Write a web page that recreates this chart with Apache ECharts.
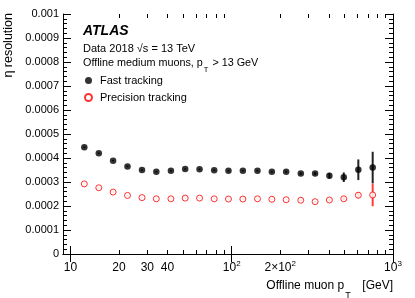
<!DOCTYPE html>
<html><head><meta charset="utf-8">
<script src="https://cdn.jsdelivr.net/npm/echarts@6/dist/echarts.min.js"></script>
<style>html,body{margin:0;padding:0;background:#fff}#c{width:415px;height:298px}</style>
</head><body><div id="c"></div>
<script>
// ---- data ----
const ptValues = [12.2, 15.0, 18.4, 22.6, 27.8, 34.1, 42.0, 51.5, 63.2, 77.9, 95.5, 117.3, 144.5, 177.4, 217.6, 268.2, 328.9, 403.3, 495.3, 609.7, 748.2];
const fastRes = [0.000445, 0.000420, 0.000389, 0.000365, 0.000350, 0.000343, 0.000347, 0.000354, 0.000353, 0.000349, 0.000347, 0.000347, 0.000347, 0.000343, 0.000343, 0.000335, 0.000335, 0.000326, 0.000320, 0.000351, 0.000360];
const fastErr = [0.000003, 0.000003, 0.000003, 0.000003, 0.000003, 0.000003, 0.000003, 0.000003, 0.000003, 0.000003, 0.000003, 0.000003, 0.000003, 0.000003, 0.000004, 0.000005, 0.000006, 0.000012, 0.000020, 0.000043, 0.000066];
const precRes = [0.000292, 0.000276, 0.000258, 0.000244, 0.000235, 0.000230, 0.000230, 0.000233, 0.000233, 0.000230, 0.000229, 0.000229, 0.000230, 0.000228, 0.000226, 0.000224, 0.000218, 0.000225, 0.000230, 0.000245, 0.000246];
const precErr = [0.000002, 0.000002, 0.000002, 0.000002, 0.000002, 0.000002, 0.000002, 0.000002, 0.000002, 0.000002, 0.000002, 0.000002, 0.000002, 0.000002, 0.000002, 0.000003, 0.000003, 0.000004, 0.000006, 0.000013, 0.000047];
const xMajorTicks = [10, 100, 1000];
const xMinorTicks = [20, 30, 40, 50, 60, 70, 80, 90, 200, 300, 400, 500, 600, 700, 800, 900];
const xTickLabels = [10, 20, 30, 40, 100, 200, 1000];
const seriesNames = ['Fast tracking', 'Precision tracking'];
const xRange = [9, 1000];
const yRange = [0, 0.001];
const yStep = 0.0001;

// ---- chart ----
const FONT = 'Liberation Sans, Arial, Helvetica, sans-serif';
const chart = echarts.init(document.getElementById('c'), null, {renderer: 'canvas'});

function xLabelFmt(v) {
  const m = {10: '{n|10}', 20: '{n|20}', 30: '{n|30}', 40: '{n|40}', 100: '{n|10}{sup|2}', 200: '{n|2×10}{sup|2}', 1000: '{n|10}{sup|3}'};
  return m[Math.round(v)] || '';
}
function yLabelFmt(v) {
  if (Math.abs(v) < 1e-12) return '0';
  return v.toFixed(4).replace(/0+$/, '');
}
const line = {show: true, lineStyle: {color: '#000', width: 1}};

const errSeries = (name, res, err, color) => ({
  type: 'custom', name: name + '_err', xAxisIndex: 0, yAxisIndex: 0, z: 1,
  data: ptValues.map((x, i) => [x, res[i], err[i]]),
  encode: {x: 0, y: 1},
  renderItem: function (params, api) {
    const x = api.value(0), y = api.value(1), e = api.value(2);
    const p1 = api.coord([x, y - e]);
    const p2 = api.coord([x, y + e]);
    return {type: 'line', shape: {x1: p1[0], y1: p1[1], x2: p2[0], y2: p2[1]},
            style: {stroke: color, lineWidth: 2}};
  },
  silent: true
});

const subRich = (main, sub, lh, pad, padR) => ({
  n: {fontSize: main, lineHeight: lh, verticalAlign: 'top', fontFamily: FONT, color: '#000'},
  sub: {fontSize: sub, lineHeight: sub, verticalAlign: 'top', padding: [pad, padR, 0, 1], fontFamily: FONT, color: '#000'}
});

const option = {
  animation: false,
  backgroundColor: '#fff',
  textStyle: {fontFamily: FONT},
  grid: [
    {left: 63, right: 22, top: 14, bottom: 44, containLabel: false},
    {left: 63, right: 22, top: 14, bottom: 44, containLabel: false}
  ],
  xAxis: [
    {type: 'log', gridIndex: 0, position: 'bottom', min: xRange[0], max: xRange[1], logBase: 10,
     axisLine: line, splitLine: {show: false},
     axisTick: {show: true, inside: true, length: 8, customValues: xMajorTicks, lineStyle: {color: '#000'}},
     axisLabel: {show: true, customValues: xTickLabels, formatter: xLabelFmt, color: '#000', fontSize: 12, margin: 6,
                 fontFamily: FONT,
                 rich: {n: {fontSize: 12, lineHeight: 12, verticalAlign: 'top', padding: [2, 0, 0, 0], fontFamily: FONT},
                        sup: {fontSize: 8, lineHeight: 8, verticalAlign: 'top', fontFamily: FONT}}}},
    {type: 'log', gridIndex: 0, position: 'top', min: xRange[0], max: xRange[1], logBase: 10,
     axisLine: line, splitLine: {show: false}, axisLabel: {show: false},
     axisTick: {show: true, inside: true, length: 8, customValues: xMajorTicks, lineStyle: {color: '#000'}}},
    {type: 'log', gridIndex: 1, position: 'bottom', min: xRange[0], max: xRange[1], logBase: 10,
     axisLine: {show: false}, splitLine: {show: false}, axisLabel: {show: false},
     axisTick: {show: true, inside: true, length: 4, customValues: xMinorTicks, lineStyle: {color: '#000'}}},
    {type: 'log', gridIndex: 1, position: 'top', min: xRange[0], max: xRange[1], logBase: 10,
     axisLine: {show: false}, splitLine: {show: false}, axisLabel: {show: false},
     axisTick: {show: true, inside: true, length: 4, customValues: xMinorTicks, lineStyle: {color: '#000'}}}
  ],
  yAxis: [
    {type: 'value', gridIndex: 0, position: 'left', min: yRange[0], max: yRange[1], interval: yStep,
     axisLine: line, splitLine: {show: false},
     axisTick: {show: true, inside: true, length: 8, lineStyle: {color: '#000'}},
     minorTick: {show: true, splitNumber: 5, length: 4, lineStyle: {color: '#000'}},
     axisLabel: {show: true, formatter: yLabelFmt, color: '#000', fontSize: 11, margin: 4, fontFamily: FONT}},
    {type: 'value', gridIndex: 0, position: 'right', min: yRange[0], max: yRange[1], interval: yStep,
     axisLine: line, splitLine: {show: false}, axisLabel: {show: false},
     axisTick: {show: true, inside: true, length: 8, lineStyle: {color: '#000'}},
     minorTick: {show: true, splitNumber: 5, length: 4, lineStyle: {color: '#000'}}},
    {type: 'value', gridIndex: 1, min: yRange[0], max: yRange[1], show: false}
  ],
  legend: {
    show: true, orient: 'vertical', left: 84, top: 74, padding: 0, itemWidth: 7, itemHeight: 7, itemGap: 4,
    data: seriesNames,
    textStyle: {color: '#000', fontSize: 11, fontFamily: FONT, lineHeight: 13, padding: [0, 0, 0, 3]},
    selectedMode: false
  },
  graphic: [
    {type: 'text', x: 83, y: 31.5, style: {text: 'ATLAS', font: 'italic bold 14px ' + FONT, fill: '#000', textVerticalAlign: 'middle'}},
    {type: 'text', x: 83, y: 48.5, style: {text: 'Data 2018 √s = 13 TeV', font: '11px ' + FONT, fill: '#000', textVerticalAlign: 'middle'}},
    {type: 'text', x: 83, y: 57.5, style: {text: '{n|Offline medium muons, p}{sub|T}{n| > 13 GeV}', font: '11px ' + FONT, fill: '#000', textVerticalAlign: 'top',
      rich: subRich(10.8, 7.5, 13, 8, 1)}},
    {type: 'text', x: 393, y: 280, style: {text: '{n|Offline muon p}{sub|T}{n|  [GeV]}', font: '12px ' + FONT, fill: '#000', textAlign: 'right', textVerticalAlign: 'top',
      rich: subRich(12, 9, 14, 11, 5)}},
    {type: 'text', x: 9, y: 13, rotation: Math.PI / 2, style: {text: 'η resolution', font: '12.5px ' + FONT, fill: '#000', textAlign: 'right', textVerticalAlign: 'middle'}}
  ],
  series: [
    errSeries('fast', fastRes, fastErr, '#222'),
    errSeries('prec', precRes, precErr, '#ff3b3b'),
    {type: 'scatter', name: seriesNames[0], xAxisIndex: 0, yAxisIndex: 0, z: 3,
     data: ptValues.map((x, i) => [x, fastRes[i]]), symbol: 'circle', symbolSize: 6.5,
     itemStyle: {color: '#000'}},
    {type: 'scatter', name: seriesNames[1], xAxisIndex: 0, yAxisIndex: 0, z: 3,
     data: ptValues.map((x, i) => [x, precRes[i]]), symbol: 'circle', symbolSize: 6,
     itemStyle: {color: '#fff', borderColor: '#ff0000', borderWidth: 1}}
  ]
};
chart.setOption(option);
</script>
</body></html>
